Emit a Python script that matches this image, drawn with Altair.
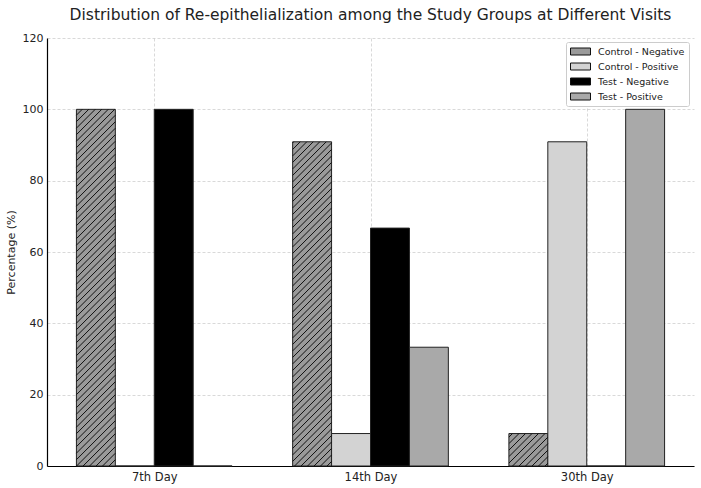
import json
import altair as alt
import pandas as pd

# ---- data ----
groups = ["7th Day", "14th Day", "30th Day"]
series = ["Control - Negative", "Control - Positive", "Test - Negative", "Test - Positive"]
control_negative = [100.0, 90.9, 9.1]
control_positive = [0.0, 9.1, 90.9]
test_negative = [100.0, 66.7, 0.0]
test_positive = [0.0, 33.3, 100.0]
y_ticks = [0, 20, 40, 60, 80, 100, 120]

values_by_series = [control_negative, control_positive, test_negative, test_positive]
colors = ["#9a9a9a", "#d3d3d3", "#000000", "#a9a9a9"]

# ---- layout ----
W, H = 647, 428
BAR_W = 0.18
X_DOMAIN = [-0.496, 2.496]
Y_DOMAIN = [0, 120]

rows = []
for si, (name, vals) in enumerate(zip(series, values_by_series)):
    for gi, v in enumerate(vals):
        c = gi + (si - 1.5) * BAR_W
        rows.append({"series": name, "group": groups[gi], "x0": c - BAR_W / 2,
                     "x1": c + BAR_W / 2, "value": v, "base": 0.0})
df = pd.DataFrame(rows)

# hatch lines ("///") for the Control - Negative bars, computed from the bar values
kx = W / (X_DOMAIN[1] - X_DOMAIN[0])
ky = H / (Y_DOMAIN[1] - Y_DOMAIN[0])
spacing = 6.5
hatch = []
for r in rows:
    if r["series"] != series[0] or r["value"] <= 0:
        continue
    bw = (r["x1"] - r["x0"]) * kx
    bh = r["value"] * ky
    base = r["x0"] * kx  # anchor pattern to global grid
    start = -bw - bh
    k = int(start // spacing) - 1
    while True:
        c = k * spacing - (base % spacing)
        k += 1
        if c > bh:
            break
        if c < -bw:
            continue
        xa = max(0.0, -c)
        xb = min(bw, bh - c)
        if xb - xa <= 0.5:
            continue
        hatch.append({"hx": r["x0"] + xa / kx, "hx2": r["x0"] + xb / kx,
                      "hy": (xa + c) / ky, "hy2": (xb + c) / ky})
hdf = pd.DataFrame(hatch)

label_expr = json.dumps(groups) + "[datum.value]"

x_scale = alt.Scale(domain=X_DOMAIN, nice=False, zero=False)
y_scale = alt.Scale(domain=Y_DOMAIN, nice=False)

bars = alt.Chart(df).mark_rect(stroke="#222", strokeWidth=1, opacity=1).encode(
    x=alt.X("x0:Q", scale=x_scale,
            axis=alt.Axis(values=[0, 1, 2], labelExpr=label_expr, title=None,
                          tickSize=0, labelPadding=5, grid=True, labelFontSize=11.5)),
    x2="x1:Q",
    y=alt.Y("value:Q", scale=y_scale,
            axis=alt.Axis(values=y_ticks, title="Percentage (%)", tickSize=0,
                          labelPadding=4, titlePadding=6, grid=True,
                          titleFontWeight="normal")),
    y2="base:Q",
    color=alt.Color("series:N", sort=series,
                    scale=alt.Scale(domain=series, range=colors),
                    legend=alt.Legend(title=None, orient="none", legendX=519, legendY=4,
                                      symbolType="M-2,-0.7H2V0.7H-2Z", symbolSize=100,
                                      symbolOffset=5,
                                      symbolStrokeColor="#111", symbolStrokeWidth=1,
                                      symbolOpacity=1,
                                      labelFontSize=9.5, labelFont="DejaVu Sans",
                                      labelColor="#222", labelOffset=12, rowPadding=4,
                                      padding=4, strokeColor="#cccccc", fillColor="white",
                                      cornerRadius=2)),
)

hatch_layer = alt.Chart(hdf).mark_rule(color="#111", strokeWidth=1).encode(
    x=alt.X("hx:Q", scale=x_scale),
    x2="hx2:Q",
    y=alt.Y("hy:Q", scale=y_scale),
    y2="hy2:Q",
)

chart = alt.layer(bars, hatch_layer).properties(
    width=W, height=H,
    title=alt.TitleParams("Distribution of Re-epithelialization among the Study Groups at Different Visits",
                          fontSize=15.5, font="DejaVu Sans", fontWeight="normal",
                          color="#222", anchor="middle", frame="group", offset=9),
    autosize=alt.AutoSizeParams(type="none"),
    padding={"left": 47, "top": 38, "right": 7, "bottom": 22},
    background="white",
).configure_view(stroke=None).configure_axis(
    labelFont="DejaVu Sans", titleFont="DejaVu Sans", labelFontSize=11, titleFontSize=11,
    titleFontWeight="normal", labelColor="#222", titleColor="#222",
    domainColor="#000", domainWidth=1.2, gridColor="#bbbbbb", gridDash=[3, 2],
    gridWidth=0.7, gridOpacity=0.8,
)

chart.save("out.html", embed_options={"renderer": "svg", "actions": False})
